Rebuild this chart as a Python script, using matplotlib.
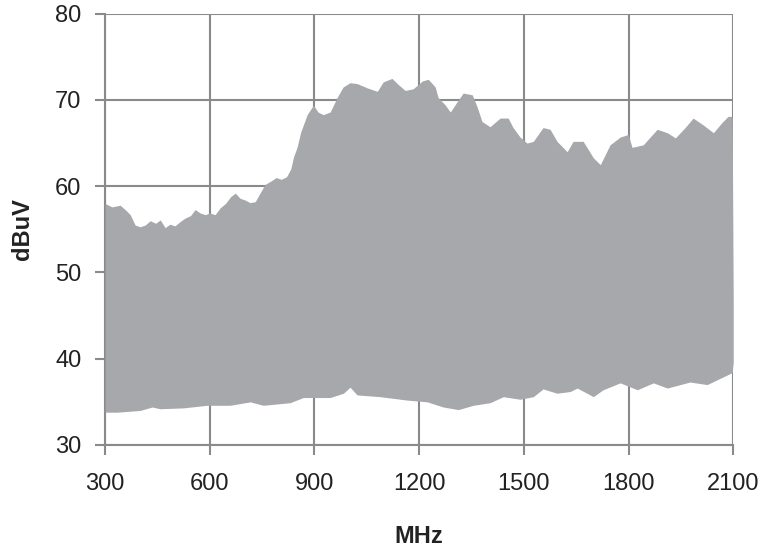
import numpy as np
from matplotlib import pyplot as plt

# upper envelope of the sweep (MHz, dBuV)
upper_mhz = [300, 320, 343, 360, 372, 386, 400, 415, 429, 445, 458, 472, 486, 500, 515, 529,
             545, 558, 572, 587, 600, 615, 630, 645, 660, 673, 687, 701, 715, 730, 744,
             758, 775, 790, 805, 820, 832, 840, 850, 860, 879, 897, 910, 925, 945, 965,
             982, 1002, 1022, 1051, 1080, 1097, 1122, 1140, 1160, 1183, 1209, 1226,
             1246, 1254, 1275, 1289, 1309, 1326, 1352, 1366, 1380, 1403, 1432, 1455,
             1469, 1489, 1509, 1527, 1555, 1575, 1595, 1624, 1641, 1670, 1699, 1719,
             1747, 1776, 1799, 1810, 1842, 1862, 1882, 1911, 1934, 1962, 1985, 2014,
             2043, 2068, 2085, 2097, 2100]
upper_db = [58.0, 57.6, 57.8, 57.2, 56.7, 55.5, 55.3, 55.5, 56.0, 55.7, 56.1, 55.2, 55.6, 55.4, 55.9, 56.3,
            56.6, 57.3, 56.9, 56.7, 56.9, 56.7, 57.5, 58.0, 58.8, 59.2, 58.6, 58.4, 58.1, 58.2, 59.2,
            60.2, 60.6, 61.0, 60.8, 61.1, 62.0, 63.4, 64.5, 66.2, 68.3, 69.4, 68.6, 68.3, 68.6, 70.3,
            71.5, 72.0, 71.9, 71.4, 71.0, 72.1, 72.5, 71.8, 71.1, 71.3, 72.2, 72.4,
            71.5, 70.3, 69.4, 68.6, 69.8, 70.8, 70.6, 69.2, 67.5, 66.9, 67.9, 67.9,
            66.8, 65.7, 65.0, 65.2, 66.8, 66.6, 65.2, 64.0, 65.2, 65.2, 63.3, 62.5,
            64.8, 65.7, 66.0, 64.5, 64.8, 65.7, 66.6, 66.2, 65.6, 66.8, 67.9, 67.1,
            66.2, 67.4, 68.1, 68.1, 46.5]

# lower envelope
lower_mhz = [300, 334, 400, 435, 458, 524, 592, 658, 716, 753, 830, 868, 925, 945, 983,
             1002, 1022, 1088, 1166, 1223, 1269, 1312, 1355, 1403, 1441, 1489, 1527,
             1555, 1595, 1633, 1653, 1699, 1727, 1776, 1825, 1871, 1911, 1976, 2025,
             2082, 2097, 2100]
lower_db = [33.8, 33.8, 34.0, 34.4, 34.2, 34.3, 34.6, 34.6, 35.0, 34.6, 34.9, 35.5, 35.5, 35.5, 36.0,
            36.7, 35.8, 35.6, 35.2, 35.0, 34.4, 34.1, 34.6, 34.9, 35.6, 35.3, 35.6,
            36.5, 36.0, 36.2, 36.6, 35.6, 36.4, 37.2, 36.4, 37.2, 36.6, 37.3, 37.0,
            38.1, 38.4, 39.6]

x_ticks = [300, 600, 900, 1200, 1500, 1800, 2100]
y_ticks = [30, 40, 50, 60, 70, 80]

grid_col = "#8a8a8c"
text_col = "#222222"

plt.rcParams['font.family'] = ['Liberation Sans', 'DejaVu Sans']

fig = plt.figure(figsize=(7.67, 5.48), dpi=100)
ax = fig.add_axes([0.137, 0.188, 0.819, 0.787])

grid = np.linspace(300, 2100, 2000)
up = np.interp(grid, upper_mhz, upper_db)
lo = np.interp(grid, lower_mhz, lower_db)
ax.fill_between(grid, lo, up, color="#a7a8ab", linewidth=0, zorder=3)

ax.set_xlim(300, 2100)
ax.set_ylim(30, 80)
ax.set_xticks(x_ticks)
ax.set_yticks(y_ticks)
ax.grid(True, color=grid_col, linewidth=1.5, zorder=1)
ax.set_axisbelow(True)
for s in ax.spines.values():
    s.set_visible(False)
for side in ['left', 'bottom']:
    ax.spines[side].set_visible(True)
    ax.spines[side].set_color(grid_col)
    ax.spines[side].set_linewidth(1.5)
    ax.spines[side].set_zorder(1)
ax.tick_params(axis='both', direction='out', length=7, width=1.5, color=grid_col,
               labelsize=17, labelcolor=text_col)
ax.tick_params(axis='x', pad=13)
ax.tick_params(axis='y', pad=10)

ax.set_xlabel("MHz", fontsize=17, fontweight='bold', labelpad=22, color=text_col)
ax.set_ylabel("dBuV", fontsize=17, fontweight='bold', labelpad=15, color=text_col)

fig.savefig("out.png", dpi=100)
